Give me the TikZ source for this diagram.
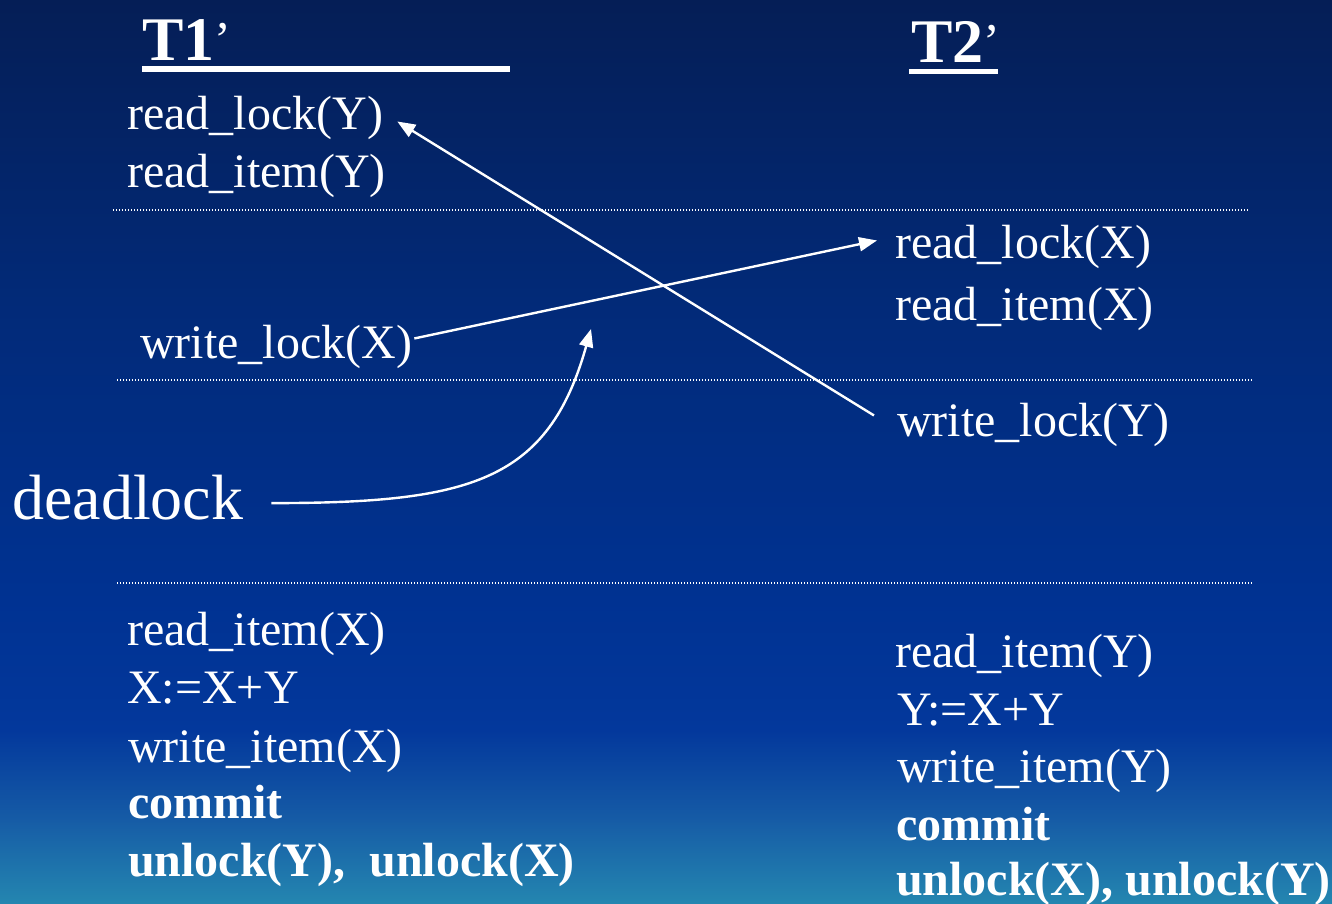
\documentclass[tikz,border=0pt]{standalone}
\usepackage{fontspec}
\setmainfont{Liberation Serif}
\usetikzlibrary{arrows.meta,calc}

% background gradient stops, top to bottom
\definecolor{bgA}{RGB}{5,30,86}
\definecolor{bgB}{RGB}{2,42,120}
\definecolor{bgC}{RGB}{0,50,146}
\definecolor{bgD}{RGB}{3,56,156}
\definecolor{bgE}{RGB}{22,92,166}
\definecolor{bgF}{RGB}{36,134,176}

% small raised prime used in the column titles
\newcommand{\tprime}{\raisebox{4pt}{\fontsize{50}{50}\selectfont\mdseries ’}}

\tikzset{
  op/.style={anchor=base west, inner sep=0pt, text=white,
             font=\fontsize{48}{48}\selectfont},
  opbold/.style={op, font=\fontsize{48}{48}\selectfont\bfseries},
  title/.style={anchor=base west, inner sep=0pt, text=white,
                font=\fontsize{62}{62}\selectfont\bfseries},
  bigword/.style={anchor=base west, inner sep=0pt, text=white,
                  font=\fontsize{64}{64}\selectfont},
  sep/.style={white!85, line width=1.2pt, dash pattern=on 1.4pt off 1.6pt},
  link/.style={white, line width=2.4pt,
               -{Triangle[length=18pt,width=14pt]}}
}

\begin{document}
\begin{tikzpicture}[x=1pt,y=-1pt]
\useasboundingbox (0,0) rectangle (1332,903);

% background
\fill[top color=bgA, bottom color=bgB] (0,0) rectangle (1332,301);
\fill[top color=bgB, bottom color=bgC] (0,300) rectangle (1332,601);
\fill[top color=bgC, bottom color=bgD] (0,600) rectangle (1332,731);
\fill[top color=bgD, bottom color=bgE] (0,730) rectangle (1332,821);
\fill[top color=bgE, bottom color=bgF] (0,820) rectangle (1332,903);

% column titles
\node[title] (t1) at (142,60) {T1\tprime};
\node[title] (t2) at (911,62) {T2\tprime};
\fill[white] (142,66) rectangle (510,72);
\fill[white] (909,68.5) rectangle (998,74);

% phase separators
\draw[sep] (113,210) -- (1248,210);
\draw[sep] (117,380) -- (1252,380);
\draw[sep] (117,583) -- (1252,583);

% transaction T1'
\node[op] (rlY) at (127,129) {read\_lock(Y)};
\node[op] (riY) at (127,187) {read\_item(Y)};
\node[op] (wlX) at (140,358) {write\_lock(X)};
\node[op] (riX1) at (127,645) {read\_item(X)};
\node[op] (asX) at (127,703) {X:=X+Y};
\node[op] (wiX) at (128,762) {write\_item(X)};
\node[opbold] (cm1) at (128,818) {commit};
\node[opbold] (ul1) at (128,876) {unlock(Y),~~unlock(X)};

% transaction T2'
\node[op] (rlX) at (895,258) {read\_lock(X)};
\node[op] (riX2) at (895,320) {read\_item(X)};
\node[op] (wlY) at (897,436) {write\_lock(Y)};
\node[op] (riY2) at (895,667) {read\_item(Y)};
\node[op] (asY) at (897,725) {Y:=X+Y};
\node[op] (wiY) at (897,782) {write\_item(Y)};
\node[opbold] (cm2) at (896,840) {commit};
\node[opbold] (ul2) at (896,895) {unlock(X), unlock(Y)};

% deadlock label
\node[bigword] (dl) at (12,519) {deadlock};
\coordinate (cross) at (591,329);

% waits-for arrows
\draw[link] ($(wlY.west)+(-23,-9)$) -- ($(rlY.east)+(14,4)$);
\draw[link] ($(wlX.east)+(2,-8)$) -- ($(rlX.west)+(-18,-6)$);
\draw[link] ($(dl.east)+(28,6)$) .. controls (470,503) and (548,482) .. (cross);
\end{tikzpicture}
\end{document}
